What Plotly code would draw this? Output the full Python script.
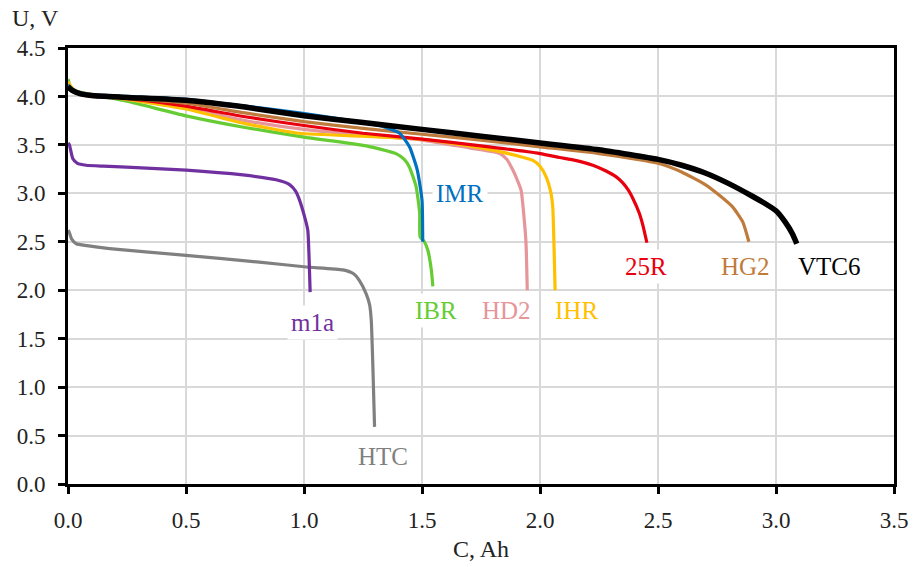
import plotly.graph_objects as go

# ---- data ----
vtc6_x = [0.0, 0.02, 0.05, 0.1, 0.25, 0.5, 0.75, 1.0, 1.25, 1.5, 1.75, 2.0, 2.25, 2.5, 2.6, 2.7, 2.8, 2.9, 2.95, 3.0, 3.04, 3.07, 3.088]
vtc6_y = [4.10, 4.06, 4.03, 4.01, 3.99, 3.96, 3.89, 3.80, 3.73, 3.66, 3.59, 3.52, 3.45, 3.35, 3.29, 3.21, 3.10, 2.97, 2.90, 2.82, 2.70, 2.58, 2.48]

hg2_x = [0.0, 0.02, 0.05, 0.1, 0.25, 0.5, 0.75, 1.0, 1.25, 1.5, 1.75, 2.0, 2.25, 2.5, 2.6, 2.7, 2.76, 2.816, 2.86, 2.885]
hg2_y = [4.08, 4.05, 4.02, 4.00, 3.98, 3.93, 3.83, 3.74, 3.67, 3.61, 3.55, 3.48, 3.41, 3.31, 3.22, 3.09, 2.98, 2.86, 2.70, 2.50]

r25_x = [0.0, 0.02, 0.05, 0.1, 0.25, 0.5, 0.75, 1.0, 1.25, 1.5, 1.75, 2.0, 2.083, 2.15, 2.224, 2.28, 2.323, 2.35, 2.375, 2.393, 2.42, 2.436, 2.453]
r25_y = [4.10, 4.06, 4.03, 4.02, 3.98, 3.90, 3.79, 3.70, 3.62, 3.56, 3.49, 3.41, 3.37, 3.34, 3.29, 3.23, 3.17, 3.11, 3.03, 2.95, 2.80, 2.67, 2.49]

ihr_x = [0.0, 0.02, 0.05, 0.1, 0.25, 0.5, 0.75, 0.98, 1.25, 1.49, 1.7, 1.83, 1.93, 1.97, 2.0, 2.026, 2.045, 2.054, 2.06, 2.064]
ihr_y = [4.15, 4.08, 4.04, 4.02, 3.97, 3.87, 3.72, 3.62, 3.59, 3.56, 3.49, 3.43, 3.37, 3.34, 3.28, 3.17, 3.02, 2.86, 2.40, 2.00]

hd2_x = [0.0, 0.02, 0.05, 0.1, 0.25, 0.5, 0.75, 1.0, 1.25, 1.5, 1.7, 1.8, 1.83, 1.86, 1.885, 1.905, 1.92, 1.94, 1.946]
hd2_y = [4.13, 4.07, 4.04, 4.02, 3.97, 3.88, 3.75, 3.66, 3.60, 3.55, 3.47, 3.43, 3.41, 3.35, 3.24, 3.13, 3.03, 2.52, 2.00]

ibr_x = [0.0, 0.01, 0.03, 0.06, 0.1, 0.25, 0.5, 0.75, 1.0, 1.264, 1.39, 1.425, 1.447, 1.475, 1.49, 1.492, 1.51, 1.525, 1.54, 1.546]
ibr_y = [4.18, 4.10, 4.06, 4.04, 4.02, 3.95, 3.80, 3.68, 3.58, 3.49, 3.41, 3.35, 3.27, 3.07, 2.80, 2.55, 2.50, 2.41, 2.20, 2.04]

imr_x = [0.0, 0.02, 0.05, 0.1, 0.25, 0.5, 0.75, 0.98, 1.2, 1.334, 1.405, 1.447, 1.48, 1.50, 1.503]
imr_y = [4.12, 4.07, 4.04, 4.02, 4.00, 3.97, 3.90, 3.83, 3.75, 3.69, 3.62, 3.48, 3.24, 2.93, 2.50]

m1a_x = [0.0, 0.006, 0.02, 0.04, 0.077, 0.15, 0.247, 0.5, 0.741, 0.882, 0.939, 0.965, 0.981, 1.0, 1.016, 1.022, 1.026]
m1a_y = [3.52, 3.50, 3.36, 3.31, 3.29, 3.28, 3.27, 3.24, 3.19, 3.14, 3.09, 3.02, 2.93, 2.78, 2.62, 2.30, 1.98]

htc_x = [0.0, 0.005, 0.015, 0.035, 0.08, 0.176, 0.5, 0.81, 1.01, 1.165, 1.21, 1.235, 1.264, 1.278, 1.285, 1.292, 1.299]
htc_y = [2.62, 2.60, 2.53, 2.48, 2.46, 2.43, 2.36, 2.29, 2.24, 2.21, 2.17, 2.10, 1.96, 1.85, 1.69, 1.20, 0.59]

series_names = ["HTC", "m1a", "IBR", "HD2", "IHR", "25R", "HG2", "IMR", "VTC6"]
series_x = [htc_x, m1a_x, ibr_x, hd2_x, ihr_x, r25_x, hg2_x, imr_x, vtc6_x]
series_y = [htc_y, m1a_y, ibr_y, hd2_y, ihr_y, r25_y, hg2_y, imr_y, vtc6_y]
series_colors = ["#808080", "#7030A0", "#66CC33", "#E6959B", "#FFC000", "#E8000E", "#BF7B3C", "#0070C0", "#000000"]
series_widths = [3.2, 3.2, 3.2, 3.2, 3.2, 3.2, 3.2, 3.2, 5.5]

# label positions (data coordinates)
label_x = [1.333, 1.037, 1.560, 1.857, 2.154, 2.451, 2.871, 1.659, 3.227]
label_y = [0.28, 1.67, 1.79, 1.79, 1.79, 2.25, 2.25, 3.00, 2.25]

x_ticks = [0.0, 0.5, 1.0, 1.5, 2.0, 2.5, 3.0, 3.5]
y_ticks = [0.0, 0.5, 1.0, 1.5, 2.0, 2.5, 3.0, 3.5, 4.0, 4.5]

FONT = "Liberation Serif"

fig = go.Figure()
for name, xs, ys, col, w in zip(series_names, series_x, series_y, series_colors, series_widths):
    fig.add_trace(go.Scatter(x=xs, y=ys, mode="lines", name=name,
                             line=dict(color=col, width=w, shape="spline", smoothing=0.5),
                             showlegend=False))

for name, lx, ly, col in zip(series_names, label_x, label_y, series_colors):
    fig.add_annotation(x=lx, y=ly, xref="x", yref="y", text=name, showarrow=False,
                       font=dict(family=FONT, size=25, color=col),
                       bgcolor="white", borderpad=3)

fig.add_annotation(text="U, V", xref="paper", yref="paper", x=-0.0702, y=1.069,
                   xanchor="left", yanchor="middle", showarrow=False,
                   font=dict(family=FONT, size=24, color="#222"))
fig.add_annotation(text="C, Ah", xref="paper", yref="paper", x=0.4995, y=-0.149,
                   xanchor="center", yanchor="middle", showarrow=False,
                   font=dict(family=FONT, size=24, color="#222"))

axis_common = dict(showline=True, linecolor="black", linewidth=3, mirror=True,
                   showgrid=True, gridcolor="#D9D9D9", gridwidth=2,
                   ticks="outside", ticklen=7, tickwidth=3, tickcolor="black",
                   zeroline=False, automargin=False, ticklabeloverflow="allow",
                   tickfont=dict(family=FONT, size=23, color="#222"))

fig.update_xaxes(range=[0, 3.5], tickvals=x_ticks, ticktext=[f"{v:.1f}" for v in x_ticks],
                 ticklabelstandoff=6, **axis_common)
fig.update_yaxes(range=[0, 4.5], tickvals=y_ticks, ticktext=[f"{v:.1f}" for v in y_ticks],
                 ticklabelstandoff=8, **axis_common)

fig.update_layout(width=916, height=567, plot_bgcolor="white", paper_bgcolor="white",
                  margin=dict(l=68, r=22, t=48, b=83, autoexpand=False))

# remove the default 8px body margin so the figure fills the window exactly
fig.write_html("out.html", config={"displayModeBar": False},
               post_script="document.body.style.margin='0px';document.body.style.overflow='hidden';")
